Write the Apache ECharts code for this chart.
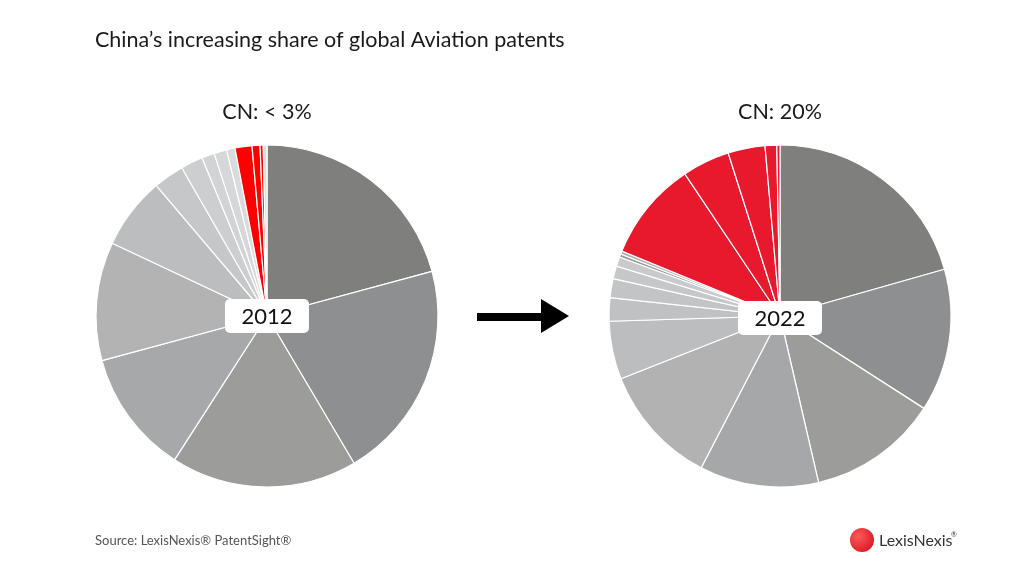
<!DOCTYPE html>
<html lang="en">
<head>
    <meta charset="UTF-8">
    <title>China's increasing share of global Aviation patents</title>
    <script src="https://cdn.jsdelivr.net/npm/echarts@6.0.0/dist/echarts.min.js"></script>
</head>
<body style="margin: 0; background: #fff">
<div id="container" style="width:1024px;height:563px;"></div>
<script>
    // shares in %, read clockwise from 12 o'clock
    var names2012 = ["Other 1", "Other 2", "Other 3", "Other 4", "Other 5", "Other 6", "Other 7",
        "Other 8", "Other 9", "Other 10", "Other 11", "CN 1", "CN 2", "CN 3", "Other 12"];
    var values2012 = [20.8, 20.7, 17.6, 11.7, 11.2, 6.8, 2.9, 2.1, 1.2, 1.2, 0.8, 1.6, 0.75, 0.3, 0.35];
    var colors2012 = ["#7f807e", "#8e8f91", "#9c9d9b", "#a7a8aa", "#b2b3b2", "#bcbdbf", "#c6c7c8",
        "#cdcecf", "#d2d3d4", "#d6d7d8", "#dadbdc", "#ff0000", "#ff0000", "#ff0000", "#dcdcdd"];

    var names2022 = ["Other 1", "Other 2", "Other 3", "Other 4", "Other 5", "Other 6", "Other 7",
        "Other 8", "Other 9", "Other 10", "Other 11", "Other 12", "CN 1", "CN 2", "CN 3", "CN 4", "CN 5"];
    var values2022 = [20.6, 13.5, 12.3, 11.25, 11.4, 5.5, 2.2, 1.8, 1.2, 0.9, 0.3, 0.3, 9.4, 4.5, 3.5, 1.1, 0.3];
    var colors2022 = ["#7f807e", "#8e8f91", "#9c9d9b", "#a6a7a9", "#b1b2b1", "#bcbdbf", "#c0c1c2",
        "#c3c4c5", "#c6c7c8", "#c9cacb", "#9c9d9b", "#b1b2b1", "#e8192c", "#e8192c", "#e8192c", "#e8192c", "#e8192c"];

    var captions = ["CN: < 3%", "CN: 20%"];
    var years = ["2012", "2022"];

    function toData(names, values, colors) {
        return names.map(function (n, i) {
            return { name: n, value: values[i], itemStyle: { color: colors[i] } };
        });
    }

    var font = "Lato, 'Noto Sans', sans-serif";

    function pie(center, data) {
        return {
            type: "pie",
            center: center,
            radius: [0, 171],
            startAngle: 90,
            clockwise: true,
            silent: true,
            animation: false,
            label: { show: false },
            labelLine: { show: false },
            itemStyle: { borderColor: "#fff", borderWidth: 1.2 },
            data: data
        };
    }

    function yearBox(cx, cy, text) {
        return {
            type: "group",
            x: cx, y: cy,
            z: 100,
            children: [
                { type: "rect", z: 100, shape: { x: -42, y: -17, width: 84, height: 34, r: 5 },
                  style: { fill: "#fff" } },
                { type: "text", z: 101, style: { text: text, x: 0, y: 1, align: "center", verticalAlign: "middle",
                  font: "22px " + font, fill: "#111" } }
            ]
        };
    }

    var dom = document.getElementById("container");
    var myChart = echarts.init(dom, null, { renderer: "canvas" });

    var titleStyle = { fontFamily: font, fontSize: 21.5, fontWeight: "normal", color: "#1a1a1a" };

    var option = {
        backgroundColor: "#fff",
        title: [
            { text: "China’s increasing share of global Aviation patents", left: 95, top: 29, padding: 0,
              textStyle: titleStyle },
            { text: captions[0], left: 267, top: 101, padding: 0, textAlign: "center", textStyle: titleStyle },
            { text: captions[1], left: 780, top: 101, padding: 0, textAlign: "center", textStyle: titleStyle },
            { text: "Source: LexisNexis® PatentSight®", left: 95, top: 534, padding: 0,
              textStyle: { fontFamily: font, fontSize: 13, fontWeight: "normal", color: "#555" } }
        ],
        series: [
            pie([267, 316], toData(names2012, values2012, colors2012)),
            pie([780, 316], toData(names2022, values2022, colors2022))
        ],
        graphic: [
            yearBox(267, 316, years[0]),
            yearBox(780, 318, years[1]),
            // arrow between the pies
            { type: "rect", z: 100, shape: { x: 477, y: 313, width: 66, height: 8 }, style: { fill: "#000" } },
            { type: "polygon", z: 100, shape: { points: [[541, 299], [569, 316], [541, 333]] }, style: { fill: "#000" } },
            // logo
            { type: "circle", z: 100, shape: { cx: 862, cy: 540, r: 12 },
              style: { fill: new echarts.graphic.RadialGradient(0.35, 0.35, 0.8,
                  [{ offset: 0, color: "#ff5a5a" }, { offset: 1, color: "#d8111f" }]) } },
            { type: "text", z: 100, style: { text: "LexisNexis", x: 879, y: 541, verticalAlign: "middle",
              font: "16px " + font, fill: "#333" } },
            { type: "text", z: 100, style: { text: "®", x: 951, y: 535, verticalAlign: "middle",
              font: "7px " + font, fill: "#333" } }
        ]
    };

    myChart.setOption(option);
</script>
</body>
</html>
